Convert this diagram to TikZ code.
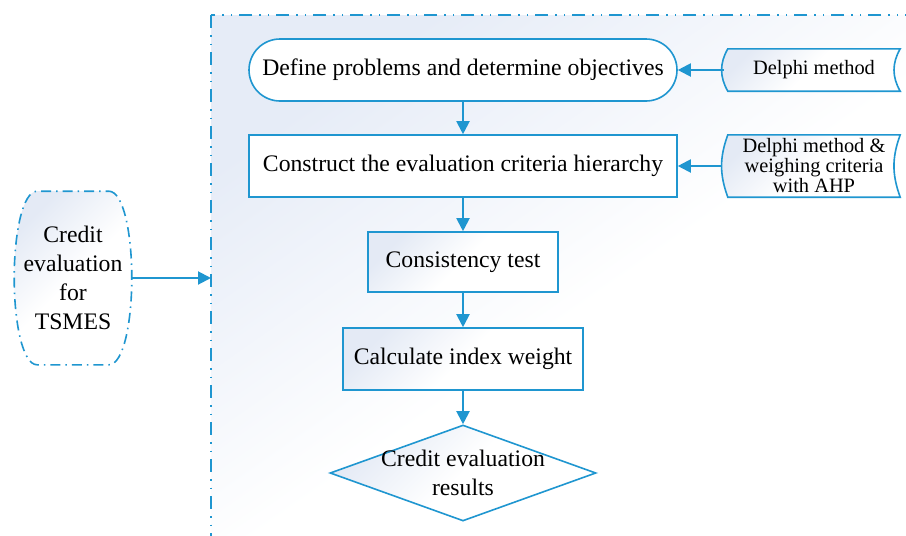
\documentclass[tikz,border=0pt]{standalone}
\usepackage{fontspec}
\setmainfont{Liberation Serif}
\usetikzlibrary{arrows.meta,shapes.geometric,backgrounds}
\definecolor{sininen}{HTML}{1F96D0}
\definecolor{vaalea}{HTML}{E4EAF5}
\definecolor{kehys}{HTML}{E6ECF7}
\tikzset{
  laatikko/.style={draw=sininen, line width=1.6pt, inner sep=0pt, align=center,
    font=\fontsize{23.7}{29}\selectfont},
  pieni/.style={inner sep=0pt, align=center, font=\fontsize{20.4}{20}\selectfont},
  varjo/.style={top color=vaalea, bottom color=white, middle color=white, shading angle=45},
  reuna/.style={draw=sininen, line width=1.6pt},
  nuoli/.style={draw=sininen, line width=2pt, -{Triangle[length=13pt,width=13pt]}}
}

\begin{document}
\begin{tikzpicture}[x=1pt,y=-1pt]
				\useasboundingbox (0,0) rectangle (906,536);
				\node[laatikko, fill=white, rounded corners=31pt, minimum width=428pt, minimum height=62pt] (maarittely) at (463,70) {Define problems and determine objectives};
				\node[laatikko, fill=white, minimum width=428pt, minimum height=62pt] (hierarkia) at (463,166) {Construct the evaluation criteria hierarchy};
				\node[laatikko, varjo, minimum width=190pt, minimum height=60pt] (johdonmukaisuus) at (463,262) {Consistency test};
				\node[laatikko, varjo, minimum width=240pt, minimum height=62pt] (painot) at (463,359) {Calculate index weight};
				\node[reuna, varjo, diamond, inner sep=0pt, minimum width=266pt, minimum height=96pt,
				  label={[laatikko, draw=none]center:Credit evaluation\\results}] (tulos) at (463,473) {};
				\node[pieni, minimum width=172pt, minimum height=42pt] (delfoi) at (814,70) {Delphi method};
				\node[pieni, minimum width=172pt, minimum height=62pt] (ahp) at (814,166) {Delphi method \&\\weighing criteria\\with AHP};
				\node[laatikko, draw=none, minimum width=116pt, minimum height=172pt] (tsmes) at (73,278) {Credit\\evaluation\\for\\TSMES};
				\coordinate (kehysreuna) at (211,278);
				\draw[nuoli] (maarittely) -- (hierarkia);
				\draw[nuoli] (hierarkia) -- (johdonmukaisuus);
				\draw[nuoli] (johdonmukaisuus) -- (painot);
				\draw[nuoli] (painot) -- (tulos);
				\draw[nuoli] ([xshift=-4pt]delfoi.west) -- (maarittely.east);
				\draw[nuoli] ([xshift=-6pt]ahp.west) -- (hierarkia.east);
				\draw[nuoli] (tsmes.east) -- (kehysreuna);
				\begin{scope}[on background layer]
					\draw[draw=sininen, line width=1.4pt, top color=kehys, bottom color=white, middle color=white, shading angle=35,
					  dash pattern=on 13pt off 7pt on 1.5pt off 7pt on 1.5pt off 7pt] (211,15) rectangle (960,600);
					\draw[reuna, varjo] (delfoi.north west) to[out=240,in=120] (delfoi.south west) -- (delfoi.south east) to[out=120,in=240] (delfoi.north east) -- cycle;
					\draw[reuna, varjo] (ahp.north west) to[out=250,in=110] (ahp.south west) -- (ahp.south east) to[out=110,in=250] (ahp.north east) -- cycle;
					% barrel shaped start box
					\draw[reuna, varjo, dash pattern=on 10pt off 5pt on 1.5pt off 5pt]
					  ([xshift=-23pt]tsmes.north east) .. controls +(15,0) and +(0,-43) .. (tsmes.east)
					  .. controls +(0,43) and +(15,0) .. ([xshift=-23pt]tsmes.south east)
					  -- ([xshift=23pt]tsmes.south west) .. controls +(-15,0) and +(0,43) .. (tsmes.west)
					  .. controls +(0,-43) and +(-15,0) .. ([xshift=23pt]tsmes.north west) -- cycle;
				\end{scope}
			\end{tikzpicture}
\end{document}
